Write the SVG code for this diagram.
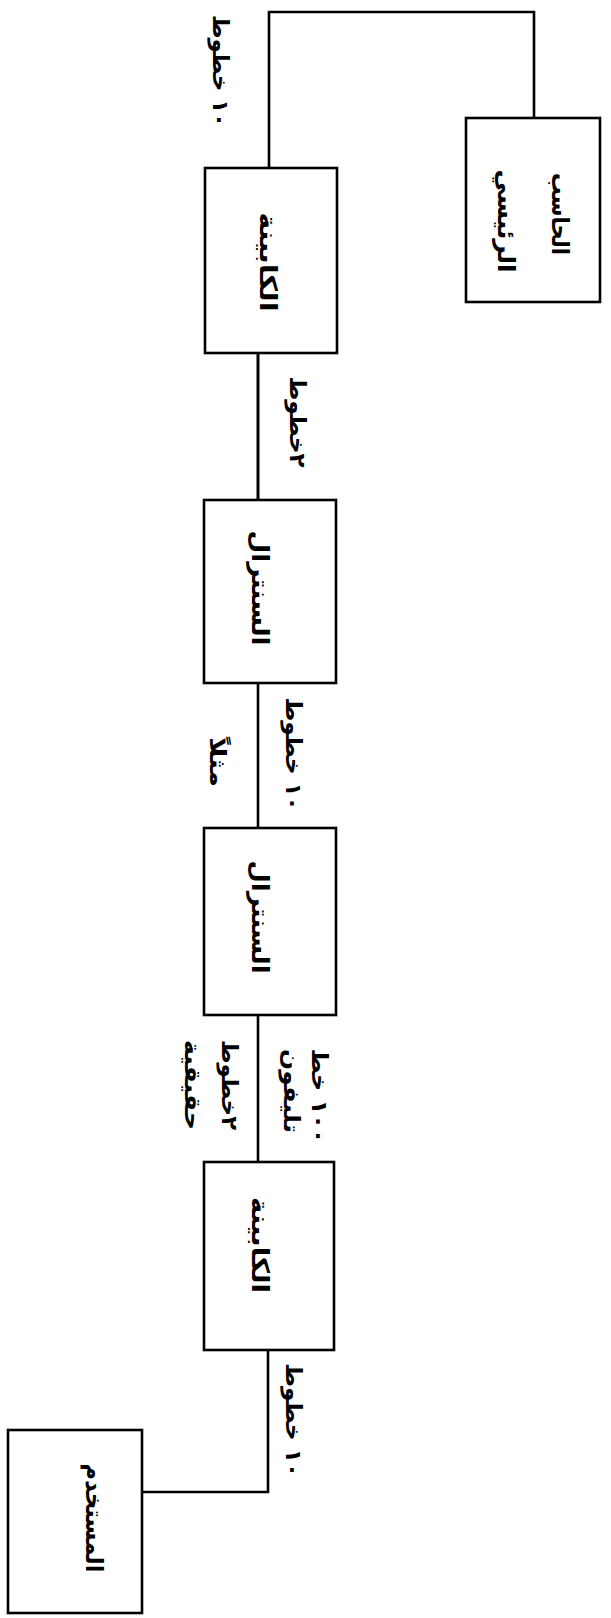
<svg xmlns="http://www.w3.org/2000/svg" width="611" height="1618" viewBox="0 0 611 1618">
<style>
.box{fill:#fff;stroke:#000;stroke-width:2.6}
.ln{fill:none;stroke:#000;stroke-width:2.6}
.t{font-family:"DejaVu Sans",sans-serif;font-size:24px;font-weight:bold;fill:#000;text-anchor:middle;dominant-baseline:central}
.l{font-family:"DejaVu Sans",sans-serif;font-size:22px;font-weight:bold;fill:#000;text-anchor:middle;dominant-baseline:central}
</style>
<rect width="611" height="1618" fill="#fff"/>
<g id="connectors">
<polyline class="ln" points="269,168 269,12 534,12 534,118"/>
<line class="ln" x1="258" y1="353" x2="258" y2="500" style="stroke-width:3"/>
<line class="ln" x1="258" y1="683" x2="258" y2="828"/>
<line class="ln" x1="258" y1="1015" x2="258" y2="1162"/>
<polyline class="ln" points="268,1350 268,1492 142,1492"/>
</g>
<g id="labels">
<text class="l" transform="translate(220,71) rotate(90)" textLength="112" lengthAdjust="spacingAndGlyphs">١٠ خطوط</text>
<text class="l" transform="translate(297,422) rotate(90)" textLength="91" lengthAdjust="spacingAndGlyphs">٢خطوط</text>
<text class="l" transform="translate(293,754) rotate(90)" textLength="113" lengthAdjust="spacingAndGlyphs">١٠ خطوط</text>
<text class="l" transform="translate(217,762) rotate(90)" textLength="50" lengthAdjust="spacingAndGlyphs">مثلاً</text>
<text class="l" transform="translate(319,1096) rotate(90)" textLength="95" lengthAdjust="spacingAndGlyphs">١٠٠ خط</text>
<text class="l" transform="translate(291,1091) rotate(90)" textLength="84" lengthAdjust="spacingAndGlyphs">تليفون</text>
<text class="l" transform="translate(229,1085) rotate(90)" textLength="90" lengthAdjust="spacingAndGlyphs">٢خطوط</text>
<text class="l" transform="translate(192,1085) rotate(90)" textLength="90" lengthAdjust="spacingAndGlyphs">حقيقية</text>
<text class="l" transform="translate(293,1420) rotate(90)" textLength="114" lengthAdjust="spacingAndGlyphs">١٠ خطوط</text>
</g>
<g id="main-computer">
<rect class="box" x="466" y="118" width="134" height="184"/>
<text class="t" transform="translate(560,214) rotate(90)" textLength="82" lengthAdjust="spacingAndGlyphs">الحاسب</text>
<text class="t" transform="translate(506,221) rotate(90)" textLength="103" lengthAdjust="spacingAndGlyphs">الرئيسي</text>
</g>
<g id="cabinet-1">
<rect class="box" x="205" y="168" width="132" height="185"/>
<text class="t" transform="translate(268,262) rotate(90)" textLength="99" lengthAdjust="spacingAndGlyphs">الكابينة</text>
</g>
<g id="exchange-1">
<rect class="box" x="204" y="500" width="132" height="183"/>
<text class="t" transform="translate(260,588) rotate(90)" textLength="115" lengthAdjust="spacingAndGlyphs">السنترال</text>
</g>
<g id="exchange-2">
<rect class="box" x="204" y="828" width="132" height="187"/>
<text class="t" transform="translate(260,917) rotate(90)" textLength="113" lengthAdjust="spacingAndGlyphs">السنترال</text>
</g>
<g id="cabinet-2">
<rect class="box" x="204" y="1162" width="130" height="188"/>
<text class="t" transform="translate(260,1245) rotate(90)" textLength="96" lengthAdjust="spacingAndGlyphs">الكابينة</text>
</g>
<g id="user">
<rect class="box" x="8" y="1430" width="134" height="183"/>
<text class="t" transform="translate(94,1518) rotate(90)" textLength="109" lengthAdjust="spacingAndGlyphs">المستخدم</text>
</g>
</svg>
